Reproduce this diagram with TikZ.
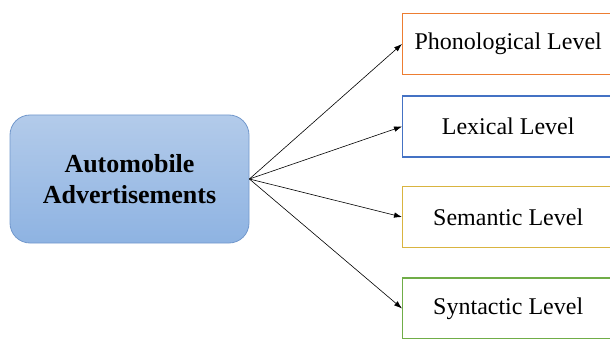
\documentclass[tikz,border=0pt]{standalone}
\usepackage{fontspec}
\setmainfont{Liberation Serif}[BoldFont={Liberation Serif Bold}]
\usetikzlibrary{arrows.meta}
\definecolor{phoncol}{HTML}{ED7D31}
\definecolor{lexcol}{HTML}{4472C4}
\definecolor{semcol}{HTML}{D9B440}
\definecolor{syncol}{HTML}{70AD47}
\definecolor{maintop}{HTML}{B3CBEA}
\definecolor{mainbot}{HTML}{8EB3E2}
\definecolor{mainedge}{HTML}{7298CC}
\tikzset{
	mainbox/.style={rounded corners=20pt, draw=mainedge, line width=0.8pt, top color=maintop, bottom color=mainbot, minimum width=239pt, minimum height=128pt, align=center, font=\fontsize{26}{31}\selectfont\bfseries},
	levelbox/.style={draw=#1, line width=1.4pt, fill=white, anchor=west, minimum width=211pt, minimum height=61pt, font=\fontsize{24}{28}\selectfont},
	link/.style={line width=0.6pt, -{Latex[length=8pt,width=5.5pt]}}
}

\begin{document}
\begin{tikzpicture}[x=1pt, y=-1pt]
		%%%%% START %%%%%
		
		\useasboundingbox (0, 0) rectangle (610, 339);
		\clip (0, 0) rectangle (610, 339);
		
		\node[mainbox] (auto) at (129.5, 179) {Automobile\\Advertisements};
		
		\node[levelbox=phoncol] (phon) at (402, 44) {Phonological Level};
		\node[levelbox=lexcol] (lex) at (402, 126.5) {Lexical Level};
		\node[levelbox=semcol] (sem) at (402, 217) {Semantic Level};
		\node[levelbox=syncol] (syn) at (402, 308.5) {Syntactic Level};
		
		\draw[link] (auto.east) -- (phon.west);
		\draw[link] (auto.east) -- (lex.west);
		\draw[link] (auto.east) -- (sem.west);
		\draw[link] (auto.east) -- (syn.west);
		
		%%%%% END %%%%%
	\end{tikzpicture}
\end{document}
